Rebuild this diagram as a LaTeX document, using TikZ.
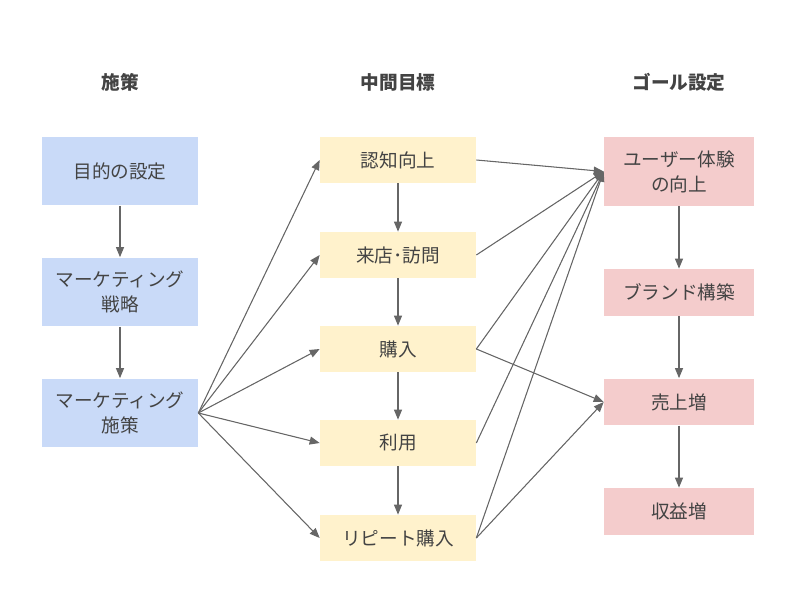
\documentclass[tikz,border=0pt]{standalone}
\usepackage{fontspec}
\setmainfont{Noto Sans CJK JP}
\usepackage{tikz}
\usetikzlibrary{arrows.meta}
\definecolor{measurefill}{HTML}{C9DAF8}
\definecolor{midfill}{HTML}{FFF2CC}
\definecolor{goalfill}{HTML}{F4CCCC}
\definecolor{inkgray}{HTML}{434343}
\definecolor{linegray}{HTML}{666666}

\begin{document}
\begin{tikzpicture}[x=0.02cm, y=-0.02cm,
  every node/.style={font=\fontsize{10.6pt}{14.2pt}\selectfont, text=inkgray, align=center, inner sep=0pt},
  head/.style={font=\fontsize{10.6pt}{14.2pt}\selectfont\bfseries},
  measure/.style={fill=measurefill, minimum width=3.12cm, minimum height=1.38cm},
  midgoal/.style={fill=midfill, minimum width=3.12cm, minimum height=0.92cm},
  goal/.style={fill=goalfill, minimum width=3.0cm, minimum height=0.94cm},
  arrow/.style={-{Triangle[length=0.2cm, width=0.16cm]}, draw=linegray, fill=linegray, line width=0.6pt}
]
\useasboundingbox (0,0) rectangle (800,604);
\node[head] (h1) at (120,82) {施策};
\node[head] (h2) at (398,82) {中間目標};
\node[head] (h3) at (679,82) {ゴール設定};

\node[measure] (obj) at (120,171) {目的の設定};
\node[measure] (strat) at (120,292) {マーケティング\\戦略};
\node[measure] (tactic) at (120,413) {マーケティング\\施策};

\node[midgoal] (aware) at (398,160) {認知向上};
\node[midgoal] (visit) at (398,255) {来店･訪問};
\node[midgoal] (buy) at (398,349) {購入};
\node[midgoal] (use) at (398,443) {利用};
\node[midgoal] (again) at (398,538) {リピート購入};

\node[goal, minimum height=1.38cm] (ux) at (679,171.5) {ユーザー体験\\の向上};
\node[goal] (brand) at (679,292.5) {ブランド構築};
\node[goal] (sales) at (679,402) {売上増};
\node[goal] (profit) at (679,511.5) {収益増};

\draw[arrow] (obj) -- (strat);
\draw[arrow] (strat) -- (tactic);
\foreach \m in {aware,visit,buy,use,again}
  \draw[arrow] (tactic.east) -- (\m.west);
\draw[arrow] (aware) -- (visit);
\draw[arrow] (visit) -- (buy);
\draw[arrow] (buy) -- (use);
\draw[arrow] (use) -- (again);
\foreach \m in {aware,visit,buy,use,again}
  \draw[arrow] (\m.east) -- (ux.west);
\draw[arrow] (buy.east) -- (sales.west);
\draw[arrow] (again.east) -- (sales.west);
\draw[arrow] (ux) -- (brand);
\draw[arrow] (brand) -- (sales);
\draw[arrow] (sales) -- (profit);
\end{tikzpicture}
\end{document}
